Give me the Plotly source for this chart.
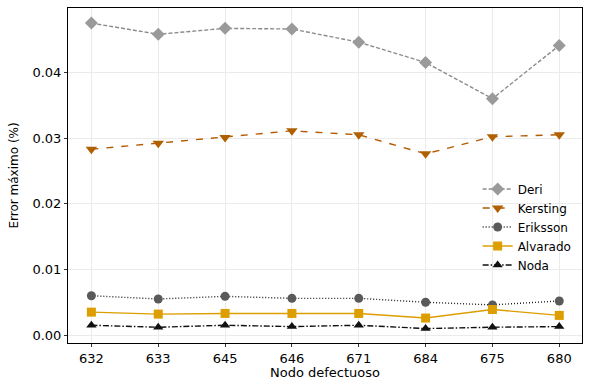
import plotly.graph_objects as go

nodes = ["632", "633", "645", "646", "671", "684", "675", "680"]
deri = [0.0475, 0.0458, 0.0467, 0.0466, 0.0446, 0.0415, 0.0360, 0.0441]
kersting = [0.0283, 0.0292, 0.0301, 0.0311, 0.0305, 0.0276, 0.0302, 0.0305]
eriksson = [0.0060, 0.0055, 0.0059, 0.0056, 0.0056, 0.0050, 0.0046, 0.0052]
alvarado = [0.0035, 0.0032, 0.0033, 0.0033, 0.0033, 0.0026, 0.0039, 0.0030]
noda = [0.0015, 0.0012, 0.0015, 0.0013, 0.0015, 0.0010, 0.0012, 0.0013]

y_ticks = [0.00, 0.01, 0.02, 0.03, 0.04]
x_title = "Nodo defectuoso"
y_title = "Error máximo (%)"

series = [
    ("Deri", deri, "#9a9a9a", "#8c8c8c", "4px,2px", "diamond", 10),
    ("Kersting", kersting, "#b06000", "#b35a00", "7px,8px", "triangle-down", 10),
    ("Eriksson", eriksson, "#5a5a5a", "#222222", "1px,2px", "circle", 9),
    ("Alvarado", alvarado, "#dc9e00", "#dc9e00", "solid", "square", 9),
    ("Noda", noda, "#111111", "#111111", "6px,2px,1.5px,2px", "triangle-up", 9),
]

fig = go.Figure()
for name, vals, mcol, lcol, dash, sym, size in series:
    fig.add_trace(go.Scatter(
        x=nodes, y=vals, name=name, mode="lines+markers",
        line=dict(color=lcol, width=1.4, dash=dash),
        marker=dict(symbol=sym, size=size, color=mcol, line=dict(width=0)),
    ))

fig.update_layout(
    width=596, height=391,
    margin=dict(l=68, r=14, t=8, b=48, autoexpand=False),
    paper_bgcolor="white", plot_bgcolor="white",
    font=dict(family="DejaVu Sans", size=12, color="black"),
    showlegend=True,
    legend=dict(x=0.797, y=0.503, xanchor="left", yanchor="top",
                bgcolor="rgba(0,0,0,0)", font=dict(size=12),
                tracegroupgap=0, itemwidth=30),
    annotations=[
        dict(text=x_title, xref="paper", yref="paper", x=0.5, y=-0.087,
             xanchor="center", yanchor="middle", showarrow=False,
             font=dict(size=13, color="black")),
        dict(text=y_title, xref="paper", yref="paper", x=-0.107, y=0.5,
             xanchor="center", yanchor="middle", showarrow=False, textangle=-90,
             font=dict(size=12, color="black")),
    ],
)
fig.update_xaxes(
    type="category", range=[-0.35, 7.34], automargin=False,
    showgrid=True, gridcolor="#ebebeb", gridwidth=1,
    showline=True, linecolor="black", linewidth=1, mirror=True,
    ticks="outside", ticklen=3, tickcolor="#333333",
    tickfont=dict(size=13, color="black"),
)
fig.update_yaxes(
    range=[-0.0012, 0.0498], tickvals=y_ticks, tickformat=".2f", automargin=False,
    showgrid=True, gridcolor="#ebebeb", gridwidth=1, zeroline=False,
    showline=True, linecolor="black", linewidth=1, mirror=True,
    ticks="outside", ticklen=3, tickcolor="#333333",
    tickfont=dict(size=13, color="black"),
)

fig.write_html(
    "out.html",
    config={"displayModeBar": False},
    post_script="document.body.style.margin='0';document.body.style.overflow='hidden';",
)
